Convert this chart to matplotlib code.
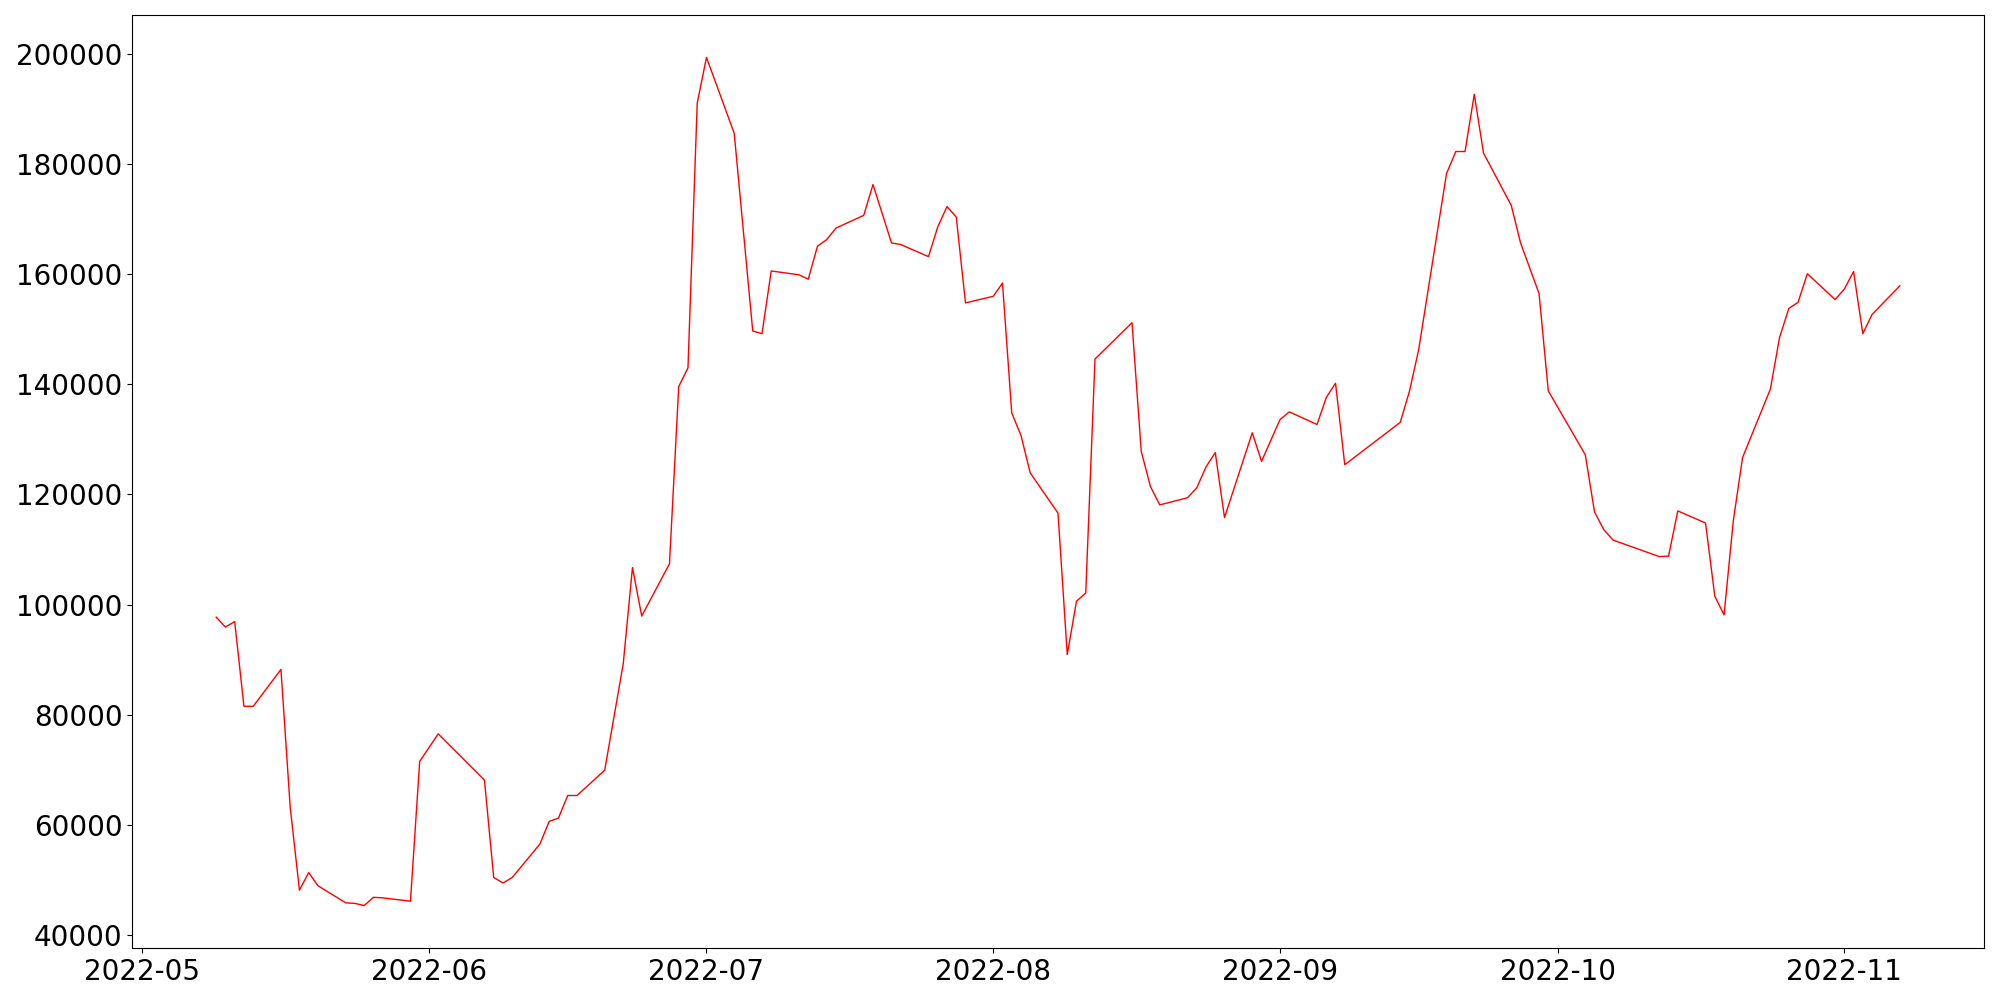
import pandas as pd
import matplotlib
matplotlib.use('Agg')
import matplotlib.pyplot as plt

# Daily values (gaps = days without data)
dates = [
    '2022-05-09', '2022-05-10', '2022-05-11', '2022-05-12', '2022-05-13',
    '2022-05-16', '2022-05-17', '2022-05-18', '2022-05-19', '2022-05-20',
    '2022-05-23', '2022-05-24', '2022-05-25', '2022-05-26', '2022-05-27',
    '2022-05-30', '2022-05-31', '2022-06-02', '2022-06-07', '2022-06-08',
    '2022-06-09', '2022-06-10', '2022-06-13', '2022-06-14', '2022-06-15',
    '2022-06-16', '2022-06-17', '2022-06-20', '2022-06-22', '2022-06-23',
    '2022-06-24', '2022-06-27', '2022-06-28', '2022-06-29', '2022-06-30',
    '2022-07-01', '2022-07-04', '2022-07-06', '2022-07-07', '2022-07-08',
    '2022-07-11', '2022-07-12', '2022-07-13', '2022-07-14', '2022-07-15',
    '2022-07-18', '2022-07-19', '2022-07-21', '2022-07-22', '2022-07-25',
    '2022-07-26', '2022-07-27', '2022-07-28', '2022-07-29', '2022-08-01',
    '2022-08-02', '2022-08-03', '2022-08-04', '2022-08-05', '2022-08-08',
    '2022-08-09', '2022-08-10', '2022-08-11', '2022-08-12', '2022-08-16',
    '2022-08-17', '2022-08-18', '2022-08-19', '2022-08-22', '2022-08-23',
    '2022-08-24', '2022-08-25', '2022-08-26', '2022-08-29', '2022-08-30',
    '2022-09-01', '2022-09-02', '2022-09-05', '2022-09-06', '2022-09-07',
    '2022-09-08', '2022-09-14', '2022-09-15', '2022-09-16', '2022-09-19',
    '2022-09-20', '2022-09-21', '2022-09-22', '2022-09-23', '2022-09-26',
    '2022-09-27', '2022-09-29', '2022-09-30', '2022-10-04', '2022-10-05',
    '2022-10-06', '2022-10-07', '2022-10-12', '2022-10-13', '2022-10-14',
    '2022-10-17', '2022-10-18', '2022-10-19', '2022-10-20', '2022-10-21',
    '2022-10-24', '2022-10-25', '2022-10-26', '2022-10-27', '2022-10-28',
    '2022-10-31', '2022-11-01', '2022-11-02', '2022-11-03', '2022-11-04',
    '2022-11-07',
]

values = [
    97700, 95900, 96900, 81500, 81500,
    88200, 63200, 48100, 51300, 48900,
    45800, 45700, 45300, 46800, 46700,
    46100, 71500, 76500, 68100, 50400,
    49400, 50400, 56500, 60600, 61200,
    65300, 65300, 69900, 89200, 106700,
    97900, 107400, 139600, 143000, 191100,
    199400, 185600, 149700, 149200, 160600,
    159900, 159100, 165100, 166300, 168400,
    170700, 176300, 165700, 165400, 163200,
    168600, 172300, 170400, 154800, 156000,
    158400, 134800, 130700, 123900, 116600,
    90900, 100600, 102100, 144600, 151200,
    127800, 121400, 118100, 119400, 121200,
    125000, 127600, 115800, 131200, 126000,
    133600, 135000, 132700, 137600, 140200,
    125400, 133100, 138800, 146400, 178300,
    182300, 182300, 192700, 182000, 172500,
    165700, 156500, 138800, 127200, 116800,
    113600, 111700, 108700, 108800, 117000,
    114800, 101500, 98100, 115200, 126700,
    139100, 148500, 153800, 154900, 160100,
    155400, 157300, 160500, 149200, 152700,
    157900,
]

dates = pd.to_datetime(dates)

plt.figure(figsize=(20, 10), dpi=100)
plt.plot(dates, values, color='red', linewidth=1)
plt.xticks(fontsize=20)
plt.yticks(fontsize=20)
plt.subplots_adjust(left=0.066, right=0.992, top=0.985, bottom=0.052)

plt.savefig('out.png')
